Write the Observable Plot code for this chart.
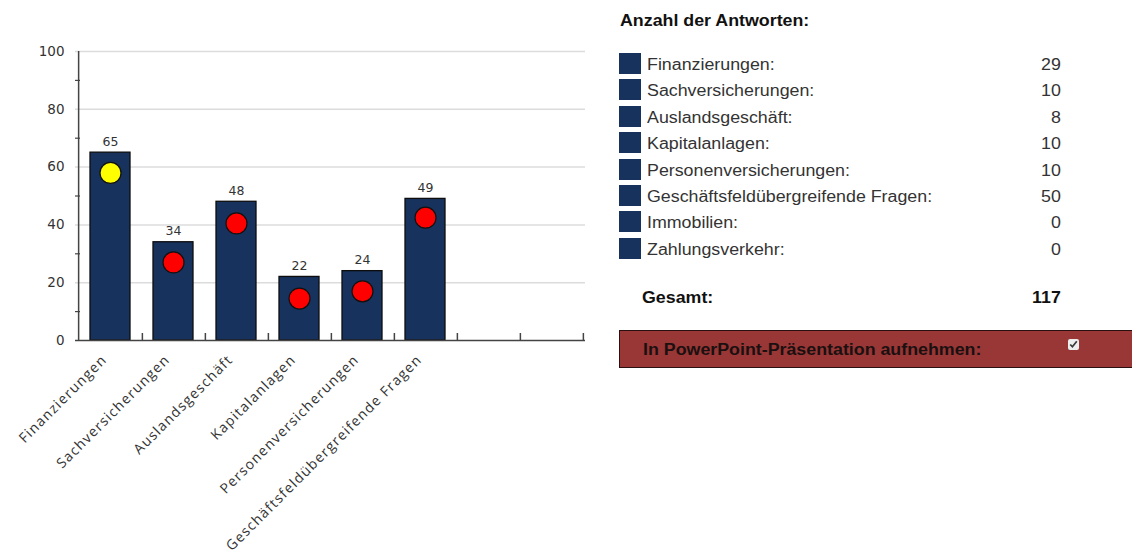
<!DOCTYPE html>
<html>
<head>
<meta charset="utf-8">
<script src="https://cdn.jsdelivr.net/npm/d3@7"></script>
<script src="https://cdn.jsdelivr.net/npm/@observablehq/plot@0.6"></script>
<style>
  html, body { margin: 0; padding: 0; background: #fff; }
  body { width: 1132px; height: 556px; overflow: hidden; position: relative;
         font-family: "Liberation Sans", Arial, sans-serif; }
  #chart { position: absolute; left: 0; top: 0; }
  #panel { position: absolute; left: 619px; top: 0; width: 513px; height: 556px; color: #333; }
  .wide { display: inline-block; transform: scaleX(1.113); transform-origin: left center; white-space: nowrap; }
  .wide.r { transform-origin: right center; }
  .title { position: absolute; left: 1px; top: 12px; font-size: 16px; line-height: 17px; font-weight: bold; color: #111; }
  .row { position: absolute; left: 0; width: 442px; height: 21px; font-size: 16px; line-height: 21px; }
  .row .sw { position: absolute; left: 0; top: 0; width: 22px; height: 21px; background: #17325c; }
  .row .lbl { position: absolute; left: 28px; top: 1px; }
  .row .val { position: absolute; right: 0; top: 1px; }
  .total { position: absolute; left: 23px; top: 287px; width: 419px; height: 21px; font-size: 16px; line-height: 21px; font-weight: bold; color: #111; }
  .total .val { position: absolute; right: 0; top: 0; }
  .ppt { position: absolute; left: 0; top: 330px; width: 540px; height: 36px; background: #993636;
         border: 1px solid #2a1010; box-sizing: content-box; }
  .ppt .txt { position: absolute; left: 23px; top: 8px; font-size: 16px; line-height: 21px; font-weight: bold; color: #1a1010; }
  .ppt input { position: absolute; left: 448px; top: 8px; width: 11px; height: 11px; margin: 0; accent-color: #eeeeee; }
</style>
</head>
<body>
<div id="chart"></div>
<div id="panel">
  <div class="title"><span class="wide">Anzahl der Antworten:</span></div>
  <div id="rows"></div>
  <div class="total"><span class="wide">Gesamt:</span><span class="val"><span class="wide r" id="total"></span></span></div>
  <div class="ppt"><span class="txt"><span class="wide">In PowerPoint-Präsentation aufnehmen:</span></span><input type="checkbox" checked></div>
</div>
<script>
// Business areas (the chart reserves a slot for every one of them)
const categories = [
  "Finanzierungen",
  "Sachversicherungen",
  "Auslandsgeschäft",
  "Kapitalanlagen",
  "Personenversicherungen",
  "Geschäftsfeldübergreifende Fragen",
  "Immobilien",
  "Zahlungsverkehr"
];
// Bar heights (labelled above each bar) for the areas that have results
const barValues = [65, 34, 48, 22, 24, 49];
// Marker values drawn inside each bar
const markerValues = [58, 27, 40.5, 14.5, 17, 42.5];
const markerColors = ["#ffff00", "#ff0000", "#ff0000", "#ff0000", "#ff0000", "#ff0000"];
// Number of answers per area
const answerCounts = [29, 10, 8, 10, 10, 50, 0, 0];
// Y axis ticks
const majorTicks = [0, 20, 40, 60, 80, 100];
const minorTicks = [10, 30, 50, 70, 90];

const bars = barValues.map((v, i) => ({
  area: categories[i], value: v, marker: markerValues[i], color: markerColors[i]
}));

const W = 600, H = 556;
const mL = 75, mR = 15, mT = 51, mB = 216;
const frameW = W - mL - mR, frameH = H - mT - mB;
const halfStep = frameW / categories.length / 2;
const chartFont = "'Open Sans', 'DejaVu Sans', sans-serif";

const chart = Plot.plot({
  width: W, height: H,
  marginLeft: mL, marginRight: mR, marginTop: mT, marginBottom: mB,
  style: { fontFamily: chartFont, background: "#fff", overflow: "visible" },
  x: { type: "band", domain: categories, paddingInner: 0.373, paddingOuter: 0.1865 },
  y: { domain: [0, 100] },
  marks: [
    // horizontal grid
    Plot.ruleY(majorTicks.filter(d => d > 0), { stroke: "#dcdcdc", strokeWidth: 1.5 }),
    // bars
    Plot.barY(bars, { x: "area", y: "value", fill: "#17325c", stroke: "#0d0d0d", strokeWidth: 1.3 }),
    // value labels above bars
    Plot.text(bars, {
      x: "area", y: "value", text: d => String(d.value), dy: -11,
      fontSize: 12.5, fill: "#333", fontFamily: "'DejaVu Sans', sans-serif", letterSpacing: 1.2
    }),
    // markers
    Plot.dot(bars, { x: "area", y: "marker", r: 10.5, fill: "color", stroke: "#111", strokeWidth: 1.2 }),
    // axis lines
    Plot.ruleY([0], { stroke: "#444", strokeWidth: 1.5 }),
    Plot.ruleX([categories[0]], { dx: -halfStep, stroke: "#444", strokeWidth: 1.5 }),
    // category separator ticks on the x axis
    Plot.ruleX(categories, { dx: halfStep, insetTop: frameH - 7, stroke: "#444", strokeWidth: 1.5 }),
    // minor ticks on the y axis
    Plot.ruleY(minorTicks, { insetRight: frameW - 5, stroke: "#444", strokeWidth: 1.2 }),
    Plot.axisY({
      ticks: majorTicks, tickSize: 0, tickPadding: 11, fontSize: 13.5,
      fill: "#333", fontFamily: "'DejaVu Sans', sans-serif", label: null
    }),
    Plot.axisX({
      ticks: categories.slice(0, barValues.length), tickSize: 0, tickPadding: 17, dx: -6,
      tickRotate: -45, fontSize: 14, fill: "#333", label: null
    })
  ]
});
chart.querySelectorAll("[aria-label='x-axis tick label'] text").forEach(t => t.setAttribute("letter-spacing", "1.2"));
document.getElementById("chart").appendChild(chart);

// Answer counts table
const rows = document.getElementById("rows");
categories.forEach((c, i) => {
  const r = document.createElement("div");
  r.className = "row";
  r.style.top = (53 + 26.4 * i) + "px";
  r.innerHTML = `<div class="sw"></div><span class="lbl"><span class="wide">${c}:</span></span>` +
                `<span class="val"><span class="wide r">${answerCounts[i]}</span></span>`;
  rows.appendChild(r);
});
document.getElementById("total").textContent = d3.sum(answerCounts);
</script>
</body>
</html>
